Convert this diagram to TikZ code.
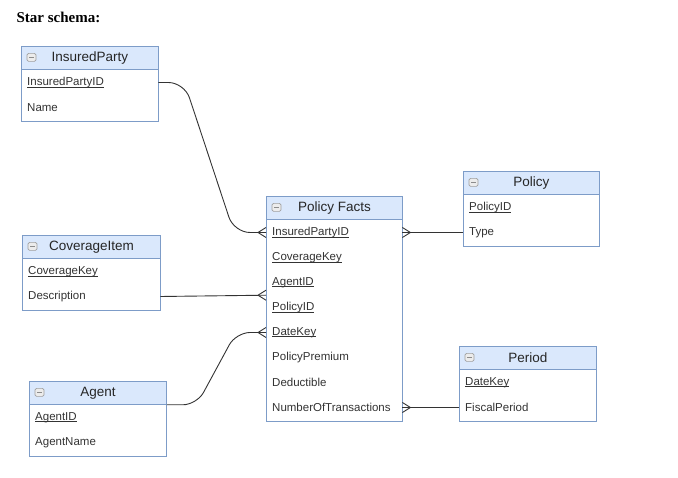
\documentclass[tikz,border=0pt]{standalone}
\usepackage{fontspec}
\setmainfont{Liberation Sans}
\newfontfamily\titlefont{Liberation Serif}
\usepackage{xcolor}
\usepackage{tikz}
\usetikzlibrary{calc,positioning}

\definecolor{hdrfill}{HTML}{DAE8FC}
\definecolor{hdrline}{HTML}{7D9CC8}
\definecolor{txtgray}{HTML}{333333}

% key field: underline close to the baseline
\newcommand{\pk}[1]{\setbox0\hbox{#1}\rlap{\rule[-1.8pt]{\wd0}{0.6pt}}#1}

% table: name, x, y, width, title, fields, number of fields
\newcommand{\erdtable}[7]{%
  \pgfmathsetmacro{\tw}{#4-12}
  \node[hdr,minimum width=#4,anchor=north west] (#1) at (#2,#3) {#5};
  \draw[icon] ($(#1.west)+(6,-4.5)$) rectangle ++(9,8);
  \draw[iconbar] ($(#1.west)+(8.2,-0.5)$) -- ++(4.6,0);
  \foreach \txt [count=\i] in {#6} {
    \node[field,text width=\tw pt,anchor=north west] (#1-\i)
      at ($(#1.south west)+(0,{25*(\i-1)})$) {\txt};
  }
  \draw[tbl] (#1.south west) rectangle ($(#1-#7.south east)+(0,1)$);
}

\begin{document}
\begin{tikzpicture}[x=1pt,y=-1pt,
    hdr/.style={rectangle,draw=hdrline,fill=hdrfill,line width=0.8pt,minimum height=23,
      inner sep=0pt,font=\fontsize{13.5}{15}\selectfont,text=black!85},
    field/.style={rectangle,inner xsep=6pt,inner ysep=0pt,minimum height=25,align=left,
      font=\fontsize{11.5}{13}\selectfont,text=txtgray},
    tbl/.style={draw=hdrline,line width=0.8pt},
    icon/.style={draw=gray!75,fill=gray!15,rounded corners=1.5pt,line width=0.7pt},
    iconbar/.style={draw=gray!90,line width=0.9pt},
    link/.style={draw=black!80,line width=0.9pt},
    crow/.pic={\draw[link] (-8,0) -- (0,-5) (-8,0) -- (0,5);},
    ]
    \useasboundingbox (0,0) rectangle (678,478);

    % titel
    \node[anchor=west,font=\titlefont\bfseries\fontsize{15}{18}\selectfont] (title) at (13,17) {Star schema:};

    % tabellen
    \erdtable{ins}{21}{46}{137}{InsuredParty}{\pk{InsuredPartyID},Name}{2}
    \erdtable{cov}{22}{235}{138}{CoverageItem}{\pk{CoverageKey},Description}{2}
    \erdtable{agent}{29}{381}{137}{Agent}{\pk{AgentID},AgentName}{2}
    \erdtable{pol}{463}{171}{136}{Policy}{\pk{PolicyID},Type}{2}
    \erdtable{per}{459}{346}{137}{Period}{\pk{DateKey},FiscalPeriod}{2}
    \erdtable{pf}{266}{196}{136}{Policy Facts}{\pk{InsuredPartyID},\pk{CoverageKey},\pk{AgentID},\pk{PolicyID},\pk{DateKey},PolicyPremium,Deductible,NumberOfTransactions}{8}

    % verbindingen
    \draw[link,rounded corners=16] (ins-1.east) -- ++(26,0) -- ($(pf-1.west)+(-32,0)$) -- (pf-1.west);
    \draw[link] (cov-2.east) -- (pf-3.south west);
    \draw[link,rounded corners=14] (agent.south east) -- ++(30,0) -- ($(pf-5.west)+(-30,0)$) -- (pf-5.west);
    \draw[link] (pf-1.east) -- (pol-2.west);
    \draw[link] (pf-8.east) -- (per-2.west);

    % kraaienpoten
    \pic at (pf-1.west) {crow};
    \pic at (pf-3.south west) {crow};
    \pic at (pf-5.west) {crow};
    \pic[xscale=-1] at (pf-1.east) {crow};
    \pic[xscale=-1] at (pf-8.east) {crow};
\end{tikzpicture}
\end{document}
